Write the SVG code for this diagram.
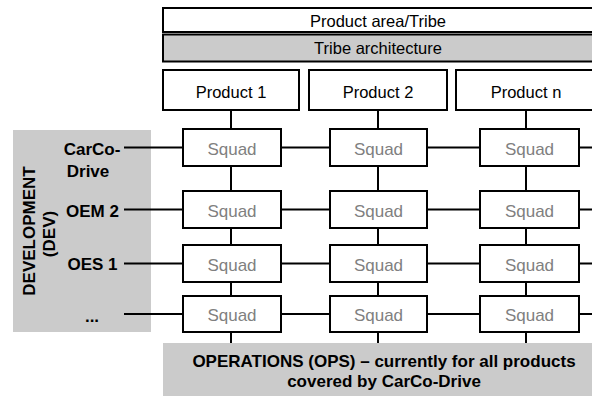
<svg xmlns="http://www.w3.org/2000/svg" width="592" height="396" viewBox="0 0 592 396">
<style>
text{font-family:"Liberation Sans",Arial,sans-serif;}
.box{fill:#fff;stroke:#000;stroke-width:2;}
.gbox{fill:#cbcbcb;stroke:#000;stroke-width:2;}
.panel{fill:#cbcbcb;stroke:none;}
.t{font-size:16.5px;fill:#000;text-anchor:middle;}
.sq{font-size:17px;fill:#808080;text-anchor:middle;}
.b{font-size:17px;font-weight:bold;fill:#000;text-anchor:middle;}
.c{stroke:#000;stroke-width:2;fill:none;}
</style>
<rect width="592" height="396" fill="#fff"/>
<g id="dev">
<rect class="panel" x="13" y="130" width="138" height="202"/>
<text class="b" transform="translate(35,231) rotate(-90)">DEVELOPMENT</text>
<text class="b" transform="translate(55,234) rotate(-90)">(DEV)</text>
</g>
<g id="ops">
<rect class="panel" x="163" y="343" width="440" height="60"/>
<text class="b" x="384" y="367">OPERATIONS (OPS) – currently for all products</text>
<text class="b" x="384" y="387">covered by CarCo-Drive</text>
</g>
<g id="connectors">
<path class="c" d="M231 110V129M231 166V191M231 228V245M231 282V296M231 332V343"/>
<path class="c" d="M378 110V129M378 166V191M378 228V245M378 282V296M378 332V343"/>
<path class="c" d="M526 110V129M526 166V191M526 228V245M526 282V296M526 332V343"/>
<path class="c" d="M124 147.5H183M281 147.5H330M427 147.5H480M579 147.5H594"/>
<path class="c" d="M124 209.5H183M281 209.5H330M427 209.5H480M579 209.5H594"/>
<path class="c" d="M124 263.5H183M281 263.5H330M427 263.5H480M579 263.5H594"/>
<path class="c" d="M124 314H183M281 314H330M427 314H480M579 314H594"/>
</g>
<g id="tribe">
<rect class="box" x="163" y="8" width="440" height="24"/>
<text class="t" x="378" y="27">Product area/Tribe</text>
</g>
<g id="arch">
<rect class="gbox" x="163" y="34.5" width="440" height="27"/>
<text class="t" x="378" y="54">Tribe architecture</text>
</g>
<g id="product1">
<rect class="box" x="163" y="70" width="136" height="40"/>
<text class="t" x="231" y="97.5">Product 1</text>
</g>
<g id="product2">
<rect class="box" x="309" y="70" width="138" height="40"/>
<text class="t" x="378" y="97.5">Product 2</text>
</g>
<g id="productn">
<rect class="box" x="456" y="70" width="150" height="40"/>
<text class="t" x="526" y="97.5">Product n</text>
</g>
<g id="lbl-carco"><text class="b" x="92" y="155">CarCo-</text><text class="b" x="88" y="177">Drive</text></g>
<g id="lbl-oem2"><text class="b" x="92.5" y="217">OEM 2</text></g>
<g id="lbl-oes1"><text class="b" x="92.5" y="270">OES 1</text></g>
<g id="lbl-more"><text class="b" x="92" y="322">...</text></g>
<g id="squad-1-1"><rect class="box" x="183" y="129" width="98" height="37"/><text class="sq" x="232" y="154.5">Squad</text></g>
<g id="squad-1-2"><rect class="box" x="330" y="129" width="97" height="37"/><text class="sq" x="378.5" y="154.5">Squad</text></g>
<g id="squad-1-3"><rect class="box" x="480" y="129" width="99" height="37"/><text class="sq" x="529.5" y="154.5">Squad</text></g>
<g id="squad-2-1"><rect class="box" x="183" y="191" width="98" height="37"/><text class="sq" x="232" y="216.5">Squad</text></g>
<g id="squad-2-2"><rect class="box" x="330" y="191" width="97" height="37"/><text class="sq" x="378.5" y="216.5">Squad</text></g>
<g id="squad-2-3"><rect class="box" x="480" y="191" width="99" height="37"/><text class="sq" x="529.5" y="216.5">Squad</text></g>
<g id="squad-3-1"><rect class="box" x="183" y="245" width="98" height="37"/><text class="sq" x="232" y="270.5">Squad</text></g>
<g id="squad-3-2"><rect class="box" x="330" y="245" width="97" height="37"/><text class="sq" x="378.5" y="270.5">Squad</text></g>
<g id="squad-3-3"><rect class="box" x="480" y="245" width="99" height="37"/><text class="sq" x="529.5" y="270.5">Squad</text></g>
<g id="squad-4-1"><rect class="box" x="183" y="296" width="98" height="36"/><text class="sq" x="232" y="320.5">Squad</text></g>
<g id="squad-4-2"><rect class="box" x="330" y="296" width="97" height="36"/><text class="sq" x="378.5" y="320.5">Squad</text></g>
<g id="squad-4-3"><rect class="box" x="480" y="296" width="99" height="36"/><text class="sq" x="529.5" y="320.5">Squad</text></g>
</svg>
